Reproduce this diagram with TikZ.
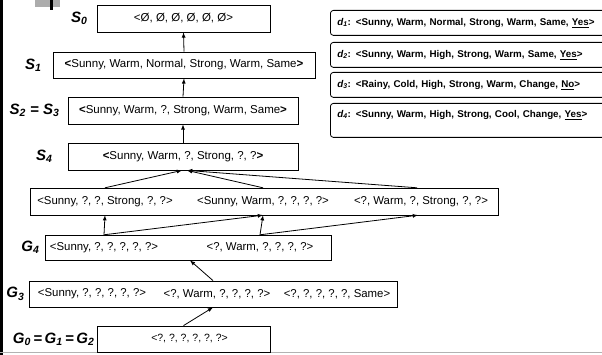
\documentclass[tikz,border=0pt]{standalone}
\usepackage{fontspec}
\setmainfont{Liberation Sans}
\usetikzlibrary{calc}
\usetikzlibrary{shapes,arrows}
\usetikzlibrary{positioning}

\tikzset{
  hyp/.style={draw, line width=0.8pt, inner sep=0pt, font=\fontsize{11.5}{13}\selectfont},
  row/.style={draw, line width=0.8pt, inner sep=0pt},
  item/.style={inner sep=0pt, minimum height=#1, font=\fontsize{11.4}{13}\selectfont},
  fact/.style={draw, line width=0.8pt, rounded corners=3pt, anchor=north west,
    minimum height=25pt, inner xsep=7pt, inner ysep=0pt, text width=272pt,
    align=left, font=\bfseries\fontsize{9.8}{12}\selectfont},
  lbl/.style={inner sep=0pt, font=\bfseries\itshape\fontsize{15}{17}\selectfont},
  arr/.style={-latex, line width=0.8pt}
}

\begin{document}
\begin{tikzpicture}[x=1pt, y=-1pt]
    \useasboundingbox (0,0) rectangle (602,355);

    % slide decoration
    \fill (0,0) rectangle (2.5,355);
    \fill[gray!65] (35,0) rectangle (60,7);
    \fill (50,0) rectangle (53,10);
    \draw[gray!60, line width=0.8pt] (0,352.5) -- (602,352.5);

    % specific boundary
    \node[hyp, minimum width=173pt, minimum height=27pt] (S0) at (183.5,18.5) {<Ø, Ø, Ø, Ø, Ø, Ø>};
    \node[hyp, minimum width=262pt, minimum height=26pt] (S1) at (184,65) {\textbf{<}Sunny, Warm, Normal, Strong, Warm, Same\textbf{>}};
    \node[hyp, minimum width=230pt, minimum height=27pt] (S2) at (183,110.5) {\textbf{<}Sunny, Warm, ?, Strong, Warm, Same\textbf{>}};
    \node[hyp, minimum width=230pt, minimum height=27pt] (S4) at (183,156.5) {\textbf{<}Sunny, Warm, ?, Strong, ?, ?\textbf{>}};

    % version space row
    \node[row, minimum width=468pt, minimum height=27pt] (M) at (264,201.5) {};
    \node[item=27pt] (m1) at (105,201.5) {<Sunny, ?, ?, Strong, ?, ?>};
    \node[item=27pt] (m2) at (263,201.5) {<Sunny, Warm, ?, ?, ?, ?>};
    \node[item=27pt] (m3) at (421,201.5) {<?, Warm, ?, Strong, ?, ?>};

    % general boundary
    \node[row, minimum width=286pt, minimum height=25pt] (G4) at (188,247.5) {};
    \node[item=25pt] (g4a) at (104,247.5) {<Sunny, ?, ?, ?, ?, ?>};
    \node[item=25pt] (g4b) at (260,247.5) {<?, Warm, ?, ?, ?, ?>};

    \node[row, minimum width=368pt, minimum height=26pt] (G3) at (213,294) {};
    \node[item=26pt] (g3a) at (92,294) {<Sunny, ?, ?, ?, ?, ?>};
    \node[item=26pt] (g3b) at (217,294) {<?, Warm, ?, ?, ?, ?>};
    \node[item=26pt] (g3c) at (337,294) {<?, ?, ?, ?, ?, Same>};

    \node[hyp, minimum width=173pt, minimum height=26pt, font=\fontsize{10.5}{12}\selectfont] (G0) at (183.5,339) {\hspace{12pt}<?, ?, ?, ?, ?, ?>};

    % labels
    \node[lbl, left=9pt of S0] (lS0) {S\textsubscript{0}};
    \node[lbl, left=11pt of S1] (lS1) {S\textsubscript{1}};
    \node[lbl, left=8pt of S2] (lS2) {S\textsubscript{2} = S\textsubscript{3}};
    \node[lbl, left=15pt of S4] (lS4) {S\textsubscript{4}};
    \node[lbl, left=5pt of G4] (lG4) {G\textsubscript{4}};
    \node[lbl, left=4pt of G3] (lG3) {G\textsubscript{3}};
    \node[lbl, left=2pt of G0] (lG0) {G\textsubscript{0}\,=\,G\textsubscript{1}\,=\,G\textsubscript{2}};

    % training examples
    \node[fact] (d1) at (330,10) {\textit{d\textsubscript{1}}: <Sunny, Warm, Normal, Strong, Warm, Same, \underline{Yes}>};
    \node[fact] (d2) at (330,42) {\textit{d\textsubscript{2}}: <Sunny, Warm, High, Strong, Warm, Same, \underline{Yes}>};
    \node[fact] (d3) at (330,72) {\textit{d\textsubscript{3}}: <Rainy, Cold, High, Strong, Warm, Change, \underline{No}>};
    \node[fact, minimum height=34pt, text height=8pt, text depth=14pt] (d4) at (330,103) {\textit{d\textsubscript{4}}: <Sunny, Warm, High, Strong, Cool, Change, \underline{Yes}>};

    % arrows
    \draw[arr] (S1.north) -- (S0.south);
    \draw[arr] (S2.north) -- (S1.south);
    \draw[arr] (S4.north) -- (S2.south);
    \draw[arr] (m1.north) -- ([xshift=-1pt]S4.south);
    \draw[arr] (m2.north) -- ([xshift=4pt]S4.south);
    \draw[arr] ([xshift=-4pt]m3.north) -- ([xshift=4pt]S4.south);
    \draw[arr] (g4a.north) -- (m1.south);
    \draw[arr] (g4a.north) -- (m2.south);
    \draw[arr] (g4b.north) -- (m2.south);
    \draw[arr] (g4b.north) -- ([xshift=-3pt]m3.south);
    \draw[arr] (G3.north) -- ([xshift=2pt]G4.south);
    \draw[arr] (G0.north) -- (G3.south);
\end{tikzpicture}
\end{document}
